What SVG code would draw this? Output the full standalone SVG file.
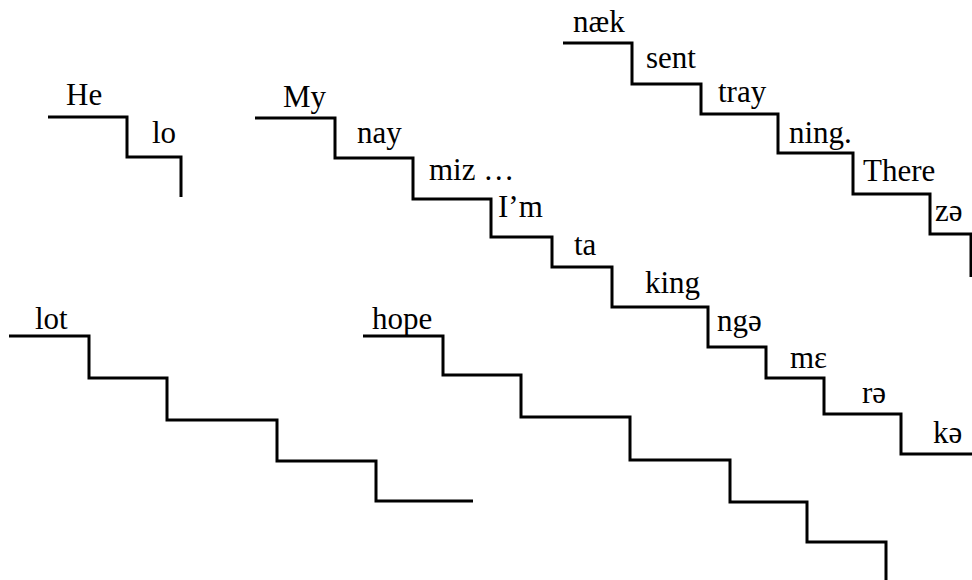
<svg xmlns="http://www.w3.org/2000/svg" width="972" height="580" viewBox="0 0 972 580">
<style>
.st{fill:none;stroke:#000;stroke-width:3;stroke-linejoin:miter;stroke-linecap:butt}
text{font-family:"Liberation Serif","DejaVu Serif",serif;font-size:31px;fill:#000}
</style>
<rect width="972" height="580" fill="#fff"/>
<g id="stair-hello">
<path class="st" d="M48,117 H127 V157 H181 V197"/>
<text x="66" y="105">He</text>
<text x="152" y="143">lo</text>
</g>
<g id="stair-name">
<path class="st" d="M255,118 H335 V158 H413 V199 H491 V237 H552 V267 H612 V307 H708 V347 H766 V378 H824 V414 H901 V454 H972"/>
<text x="283" y="107">My</text>
<text x="357" y="143">nay</text>
<text x="429" y="180">miz …</text>
<text x="498" y="217">I’m</text>
<text x="574" y="255">ta</text>
<text x="645" y="293">king</text>
<text x="717" y="331">ngə</text>
<text x="790" y="368">mɛ</text>
<text x="862" y="403">rə</text>
<text x="933" y="443">kə</text>
</g>
<g id="stair-train">
<path class="st" d="M563,43 H632 V84 H701 V114 H778 V153 H853 V194 H930 V234 H971 V277"/>
<text x="573" y="32">næk</text>
<text x="646" y="68">sent</text>
<text x="718" y="102">tray</text>
<text x="789" y="143">ning.</text>
<text x="863" y="181">There</text>
<text x="935" y="221">zə</text>
</g>
<g id="stair-lot">
<path class="st" d="M9,336 H89 V378 H167 V420 H277 V461 H376 V501 H473"/>
<text x="35" y="329">lot</text>
</g>
<g id="stair-hope">
<path class="st" d="M363,336 H443 V375 H521 V417 H630 V460 H730 V502 H807 V542 H886 V580"/>
<text x="372" y="329">hope</text>
</g>
<g id="connectors"/>
</svg>
